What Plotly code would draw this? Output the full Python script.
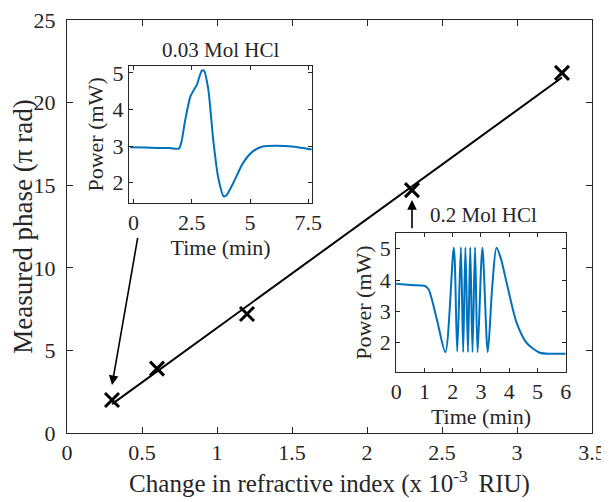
import numpy as np
import plotly.graph_objects as go

# main data: refractive index change vs measured phase
riu = [0.3, 0.6, 1.2, 2.3, 3.3]
phase = [2.0, 3.9, 7.2, 14.7, 21.8]

# inset 1: 0.03 Mol HCl
t1 = [-0.15, 0.5, 1.0, 1.5, 1.94, 2.05, 2.22, 2.44, 2.72, 2.93, 3.03, 3.21, 3.42, 3.63, 3.87,
      3.99, 4.27, 4.69, 5.11, 5.54, 6.1, 6.8, 7.65]
p1 = [2.97, 2.96, 2.95, 2.95, 2.93, 3.1, 3.72, 4.36, 4.68, 5.06, 5.05, 4.54, 3.17, 2.16, 1.63,
      1.66, 1.98, 2.53, 2.85, 2.99, 3.01, 2.99, 2.91]

# inset 2: 0.2 Mol HCl
t2 = [0.0, 0.5, 1.03, 1.15, 1.44, 1.74, 2.04, 2.16, 2.29, 2.37, 2.45, 2.54, 2.62, 2.70, 2.79,
      2.88, 3.05, 3.24, 3.40, 3.55, 3.70, 3.91, 4.26, 4.61, 5.08, 5.5, 6.0]
p2 = [3.88, 3.84, 3.81, 3.70, 2.74, 1.70, 5.03, 1.72, 5.05, 1.70, 5.05, 1.70, 5.05, 1.70, 5.05,
      1.70, 5.03, 1.70, 3.80, 5.03, 4.70, 3.91, 2.64, 2.00, 1.68, 1.65, 1.65]

FONT = "Liberation Serif"
AX = "#262626"
BLUE = "#0072BD"

slope, icpt = np.polyfit(riu, phase, 1)
fit_x = [riu[0], riu[-1]]
fit_y = [slope * v + icpt for v in fit_x]

fig = go.Figure()
fig.add_trace(go.Scatter(x=fit_x, y=fit_y, mode="lines",
                         line=dict(color="black", width=2), showlegend=False))
fig.add_trace(go.Scatter(x=riu, y=phase, mode="markers",
                         marker=dict(symbol="x-thin", size=14, line=dict(color="black", width=3)),
                         showlegend=False))
fig.add_trace(go.Scatter(x=t1, y=p1, mode="lines", xaxis="x2", yaxis="y2",
                         line=dict(color=BLUE, width=2, shape="spline", smoothing=0.6),
                         showlegend=False))
fig.add_trace(go.Scatter(x=t2, y=p2, mode="lines", xaxis="x3", yaxis="y3",
                         line=dict(color=BLUE, width=2, shape="spline", smoothing=0.8),
                         showlegend=False))

main_ax = dict(showline=True, linecolor=AX, linewidth=1, mirror="ticks", ticks="inside",
               ticklen=6, tickcolor=AX, showgrid=False, zeroline=False, automargin=False,
               ticklabeloverflow="allow", tickfont=dict(family=FONT, size=22, color=AX))
inset_ax = dict(showline=True, linecolor=AX, linewidth=1, mirror="ticks", ticks="inside",
                ticklen=4, tickcolor=AX, showgrid=False, zeroline=False, automargin=False,
                ticklabeloverflow="allow", tickfont=dict(family=FONT, size=22, color=AX))

# the page body adds an 8 px offset, so the figure is drawn 8 px smaller
fig.update_layout(
    width=601, height=494,
    margin=dict(l=59, r=17, t=12, b=69),
    paper_bgcolor="white", plot_bgcolor="white",
    font=dict(family=FONT, color=AX),
    xaxis=dict(main_ax, range=[0, 3.5], dtick=0.5, domain=[0, 1],
               title=dict(text="Change in refractive index (x 10<sup>-3 </sup> RIU)",
                          font=dict(family=FONT, size=25, color=AX), standoff=10)),
    yaxis=dict(main_ax, range=[0, 25], dtick=5, domain=[0, 1], ticklabelstandoff=6,
               title=dict(text="Measured phase (π rad)",
                          font=dict(family=FONT, size=27, color=AX), standoff=4)),
    xaxis2=dict(inset_ax, anchor="y2", domain=[0.118, 0.467], range=[-0.2, 7.67],
                tickvals=[0, 2.5, 5, 7.5], ticktext=["0", "2.5", "5", "7.5"],
                title=dict(text="Time (min)", font=dict(family=FONT, size=22, color=AX), standoff=0)),
    yaxis2=dict(inset_ax, anchor="x2", domain=[0.557, 0.889], range=[1.45, 5.19],
                tickvals=[2, 3, 4, 5],
                title=dict(text="Power (mW)", font=dict(family=FONT, size=22, color=AX), standoff=2)),
    xaxis3=dict(inset_ax, anchor="y3", domain=[0.627, 0.950], range=[0, 6], dtick=1,
                title=dict(text="Time (min)", font=dict(family=FONT, size=22, color=AX), standoff=0)),
    yaxis3=dict(inset_ax, anchor="x3", domain=[0.148, 0.484], range=[1.07, 5.5],
                tickvals=[2, 3, 4, 5],
                title=dict(text="Power (mW)", font=dict(family=FONT, size=22, color=AX), standoff=2)),
)

# white backgrounds behind the insets
for dom_x, dom_y in [([0.118, 0.467], [0.557, 0.889]), ([0.627, 0.950], [0.148, 0.484])]:
    fig.add_shape(type="rect", xref="paper", yref="paper", x0=dom_x[0], x1=dom_x[1],
                  y0=dom_y[0], y1=dom_y[1], fillcolor="white", line_width=0, layer="below")

fig.add_annotation(text="0.03 Mol HCl", xref="x2", yref="paper", x=3.75, y=0.927,
                   yanchor="middle", showarrow=False, font=dict(family=FONT, size=21, color=AX))
fig.add_annotation(text="0.2 Mol HCl", xref="paper", yref="paper", x=0.688, y=0.528,
                   xanchor="left", yanchor="middle", showarrow=False,
                   font=dict(family=FONT, size=21, color=AX))

# arrows pointing at the two measured points
fig.add_annotation(x=riu[0], y=phase[0] + 0.9, ax=0.473, ay=11.9, xref="x", yref="y",
                   axref="x", ayref="y", showarrow=True, arrowhead=2, arrowsize=1.2,
                   arrowwidth=1.6, arrowcolor="black", text="")
fig.add_annotation(x=riu[3], y=phase[3] - 0.6, ax=riu[3], ay=12.3, xref="x", yref="y",
                   axref="x", ayref="y", showarrow=True, arrowhead=2, arrowsize=1.2,
                   arrowwidth=1.6, arrowcolor="black", text="")

fig.write_html("out.html")
